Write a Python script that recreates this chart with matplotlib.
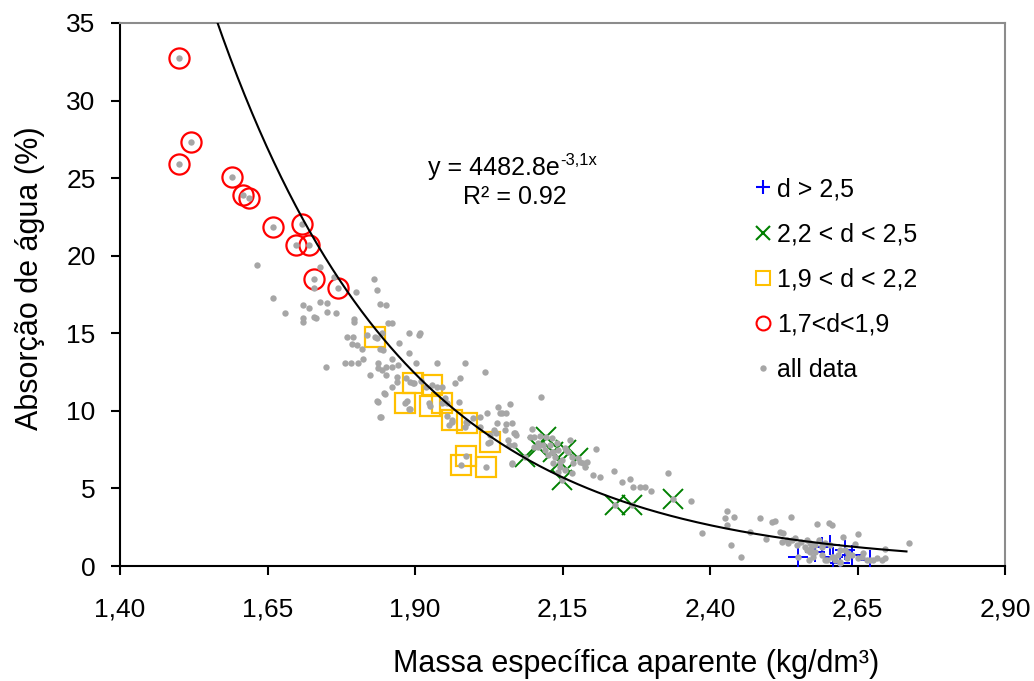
import matplotlib
matplotlib.use('Agg')
import matplotlib.pyplot as plt
from matplotlib.lines import Line2D
import numpy as np

plt.rcParams['font.family'] = ['Liberation Sans', 'DejaVu Sans']

# ---------------- data ----------------
# d > 2,5
blue_x = [2.549, 2.578, 2.590, 2.603, 2.609, 2.620, 2.629, 2.640, 2.671]
blue_y = [0.58, 0.90, 1.22, 1.35, 0.58, 0.19, 1.03, 0.71, 0.39]

# 2,2 < d < 2,5
green_x = [2.086, 2.109, 2.122, 2.134, 2.146, 2.156, 2.176, 2.149, 2.239, 2.268, 2.337]
green_y = [7.03, 7.67, 8.31, 7.35, 6.70, 7.48, 6.96, 5.54, 3.93, 3.93, 4.32]

# 1,9 < d < 2,2
yellow_x = [1.832, 1.897, 1.928, 1.883, 1.926, 1.945, 1.962, 1.988, 2.027, 1.987, 1.978, 2.020]
yellow_y = [14.74, 11.78, 11.67, 10.53, 10.31, 10.49, 9.39, 9.20, 7.97, 7.12, 6.52, 6.36]

# 1,7<d<1,9
red_x = [1.500, 1.520, 1.500, 1.590, 1.609, 1.619, 1.660, 1.709, 1.698, 1.720, 1.729, 1.770]
red_y = [32.72, 27.31, 25.89, 25.09, 23.91, 23.74, 21.87, 22.03, 20.69, 20.69, 18.50, 17.94]

# remaining samples (all data = these + the classified ones)
other_x = [
    1.632, 1.739, 1.762, 1.728, 1.831, 1.835, 1.800, 1.660, 1.711, 1.720,
    1.739, 1.750, 1.841, 1.851, 1.680, 1.711, 1.711, 1.728, 1.732, 1.750,
    1.766, 1.797, 1.797, 1.855, 1.861, 1.785, 1.795, 1.794, 1.801, 1.818,
    1.835, 1.841, 1.846, 1.781, 1.791, 1.804, 1.812, 1.838, 1.838, 1.749,
    1.844, 1.861, 1.861, 1.872, 1.823, 1.851, 1.869, 1.861, 1.849, 1.889,
    1.909, 1.906, 1.844, 1.873, 1.889, 1.811, 1.851, 1.902, 1.937, 1.984,
    2.019, 1.869, 1.837, 1.842, 1.885, 1.892, 1.898, 1.911, 1.919, 1.937,
    1.945, 1.968, 1.976, 1.924, 1.892, 1.951, 1.954, 1.975, 1.986, 1.955,
    1.962, 2.010, 2.022, 2.044, 2.041, 2.061, 2.039, 2.010, 2.034, 2.038,
    2.067, 2.072, 2.024, 2.058, 2.027, 2.095, 2.114, 2.064, 1.848, 1.835,
    1.886, 1.890, 1.841, 1.958, 1.984, 1.999, 2.047, 2.055, 2.055, 2.064,
    2.053, 2.069, 2.060, 2.068, 2.098, 2.101, 2.112, 2.132, 2.163, 2.109,
    2.117, 2.129, 2.140, 2.101, 2.120, 2.132, 2.143, 2.154, 2.160, 2.126,
    2.137, 2.149, 2.166, 2.168, 2.180, 2.134, 2.146, 2.154, 2.143, 2.166,
    2.185, 2.191, 2.188, 2.064, 2.206, 2.201, 2.214, 2.237, 2.250, 2.264,
    2.270, 2.281, 2.290, 2.300, 2.328, 2.367, 2.386, 2.429, 2.425, 2.440,
    2.428, 2.436, 2.452, 2.467, 2.485, 2.495, 2.505, 2.510, 2.537, 2.519,
    2.524, 2.522, 2.530, 2.533, 2.539, 2.544, 2.547, 2.555, 2.564, 2.561,
    2.569, 2.572, 2.578, 2.584, 2.589, 2.595, 2.564, 2.569, 2.567, 2.575,
    2.589, 2.595, 2.606, 2.612, 2.617, 2.620, 2.632, 2.634, 2.620, 2.651,
    2.657, 2.666, 2.677, 2.683, 2.581, 2.602, 2.606, 2.625, 2.646, 2.651,
    2.660, 2.738, 2.697, 2.691, 2.697, 2.598,
]
other_y = [
    19.40, 19.25, 18.61, 17.90, 18.48, 17.79, 17.68, 17.26, 16.82, 16.65,
    17.00, 16.93, 16.89, 16.82, 16.29, 15.97, 15.75, 16.07, 15.97, 16.39,
    16.29, 15.90, 15.75, 15.68, 15.68, 14.78, 14.74, 14.29, 14.25, 14.89,
    14.68, 13.97, 13.92, 13.10, 13.07, 13.07, 13.32, 13.07, 12.74, 12.85,
    12.63, 12.81, 13.32, 12.96, 12.31, 12.31, 12.16, 11.52, 11.09, 15.00,
    15.04, 14.89, 15.00, 14.35, 13.71, 13.97, 12.85, 13.07, 13.07, 13.07,
    12.52, 11.88, 10.59, 9.62, 12.10, 11.88, 11.82, 11.94, 11.56, 11.56,
    11.56, 11.82, 12.10, 10.49, 10.10, 10.81, 10.49, 10.59, 9.30, 9.69,
    9.30, 9.62, 9.84, 9.84, 10.27, 10.44, 9.20, 8.98, 8.77, 8.55,
    8.59, 8.44, 7.91, 8.12, 8.44, 8.33, 10.87, 6.62, 11.13, 10.66,
    10.66, 10.10, 9.62, 9.09, 8.98, 9.52, 9.84, 9.84, 9.15, 9.24,
    8.77, 8.55, 7.80, 7.80, 8.81, 8.33, 8.38, 8.23, 8.12, 7.91,
    7.80, 7.80, 7.91, 7.69, 7.48, 7.37, 7.48, 7.59, 7.37, 7.15,
    7.05, 6.83, 7.05, 6.62, 6.72, 6.62, 6.40, 6.19, 6.08, 5.98,
    6.62, 6.72, 6.40, 6.57, 7.52, 5.87, 5.76, 6.14, 5.43, 5.59,
    5.11, 5.11, 5.11, 4.85, 6.01, 4.21, 2.15, 3.56, 3.07, 3.18,
    2.64, 1.35, 0.60, 2.21, 3.07, 1.72, 2.82, 2.92, 3.18, 2.21,
    2.11, 1.57, 1.68, 1.46, 1.68, 1.79, 1.35, 1.57, 1.68, 1.24,
    1.46, 1.14, 1.35, 1.68, 1.35, 1.46, 1.03, 0.92, 0.39, 0.60,
    0.71, 0.39, 0.60, 0.39, 0.71, 0.28, 0.50, 0.82, 1.03, 0.50,
    0.60, 0.39, 0.39, 0.50, 2.71, 2.79, 2.64, 1.85, 1.42, 2.06,
    0.86, 1.50, 1.08, 0.39, 0.50, 0.39,
]

all_x = other_x + blue_x + green_x + yellow_x + red_x
all_y = other_y + blue_y + green_y + yellow_y + red_y

# exponential trendline shown on the chart: y = 4482.8 e^(-3,1 x)
fit_a = 4482.8
fit_b = -3.1
fit_xmin, fit_xmax = 1.50, 2.733

x_ticks = [1.40, 1.65, 1.90, 2.15, 2.40, 2.65, 2.90]
y_ticks = [0, 5, 10, 15, 20, 25, 30, 35]

legend_labels = ['d > 2,5', '2,2 < d < 2,5', '1,9 < d < 2,2', '1,7<d<1,9', 'all data']

# ---------------- figure ----------------
W, H = 1034, 681
fig = plt.figure(figsize=(W / 100, H / 100), dpi=100)
ax = fig.add_axes([120 / W, (H - 566) / H, 885 / W, 543 / H])

c_blue, c_green, c_yellow, c_red, c_gray = '#0000FF', '#008000', '#FFC000', '#FF0000', '#A6A6A6'

ax.plot(blue_x, blue_y, ls='none', marker='+', ms=14, mew=1.4, color=c_blue, zorder=3)
ax.plot(green_x, green_y, ls='none', marker='x', ms=14, mew=1.4, color=c_green, zorder=3)
ax.plot(yellow_x, yellow_y, ls='none', marker='s', ms=14.5, mew=1.6, mfc='none', mec=c_yellow, zorder=3)
ax.plot(red_x, red_y, ls='none', marker='o', ms=14.5, mew=1.6, mfc='none', mec=c_red, zorder=3)
ax.plot(all_x, all_y, ls='none', marker='o', ms=4.6, mew=0, color=c_gray, zorder=4)

xf = np.linspace(fit_xmin, fit_xmax, 300)
ax.plot(xf, fit_a * np.exp(fit_b * xf), color='black', lw=1.5, zorder=5)

ax.set_xlim(1.40, 2.90)
ax.set_ylim(0, 35)
ax.set_xticks(x_ticks)
ax.set_xticklabels([f'{v:.2f}'.replace('.', ',') for v in x_ticks])
ax.set_yticks(y_ticks)
ax.set_yticklabels([str(v) for v in y_ticks])

for s in ('left', 'bottom'):
    ax.spines[s].set_color('black')
    ax.spines[s].set_linewidth(1.5)
for s in ('top', 'right'):
    ax.spines[s].set_color('#8C8C8C')
    ax.spines[s].set_linewidth(1.5)

ax.tick_params(axis='both', direction='out', length=6.5, width=1.5, colors='black', labelsize=19)
ax.tick_params(axis='x', pad=16)
ax.tick_params(axis='y', pad=11)

fig.text(636 / W, 1 - 664 / H, 'Massa específica aparente (kg/dm³)', ha='center', va='center', fontsize=22)
fig.text(30 / W, 1 - 278 / H, 'Absorção de água (%)', ha='center', va='center', rotation=90, fontsize=22)

eq = fig.text(428 / W, 1 - 175 / H, 'y = 4482.8e', ha='left', va='baseline', fontsize=18)
ax.annotate('-3,1x', xy=(1.0, 1.0), xycoords=eq, xytext=(0.5, 2.5), textcoords='offset points',
            ha='left', va='top', fontsize=12, annotation_clip=False)
fig.text(463 / W, 1 - 204 / H, 'R² = 0.92', ha='left', va='baseline', fontsize=18)

handles = [
    Line2D([], [], ls='none', marker='+', ms=10, mew=1.5, color=c_blue),
    Line2D([], [], ls='none', marker='x', ms=10, mew=1.5, color=c_green),
    Line2D([], [], ls='none', marker='s', ms=9.5, mew=1.5, mfc='none', mec=c_yellow),
    Line2D([], [], ls='none', marker='o', ms=10, mew=1.5, mfc='none', mec=c_red),
    Line2D([], [], ls='none', marker='o', ms=4.6, mew=0, color=c_gray),
]
fig.legend(handles, legend_labels, loc='upper left',
           bbox_to_anchor=(755.5 / W, 1 - 177 / H), bbox_transform=fig.transFigure,
           frameon=False, fontsize=18, handlelength=0.6, handletextpad=0.25,
           labelspacing=0.85, borderpad=0, borderaxespad=0)

fig.savefig('out.png', dpi=100)
